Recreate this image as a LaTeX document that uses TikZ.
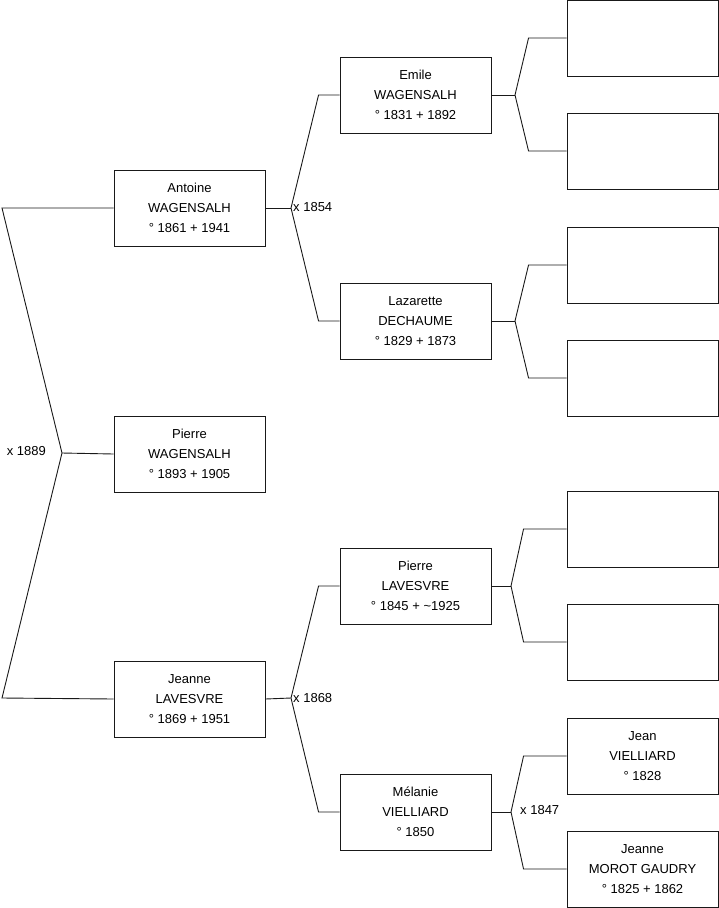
\documentclass[tikz,border=0pt]{standalone}
\usepackage{fontspec}
\setmainfont{Liberation Sans}
\begin{document}
\begin{tikzpicture}[x=1pt,y=-1pt,
  person/.style={draw=black!90, line width=0.9pt, minimum width=151pt, minimum height=76pt, inner sep=0pt, align=center, font=\fontsize{13}{20}\selectfont},
  link/.style={draw=black!90, line width=0.9pt},
  lbl/.style={inner sep=0pt, font=\fontsize{13}{15}\selectfont}]
\useasboundingbox (0,0) rectangle (719,908);
% generation 1
\node[person] (ant) at (189.5,208) {Antoine\\WAGENSALH\\° 1861 + 1941};
\node[person] (pw) at (189.5,454) {Pierre\\WAGENSALH\\° 1893 + 1905};
\node[person] (jea) at (189.5,699) {Jeanne\\LAVESVRE\\° 1869 + 1951};
% generation 2
\node[person] (emi) at (415.5,95) {Emile\\WAGENSALH\\° 1831 + 1892};
\node[person] (laz) at (415.5,321) {Lazarette\\DECHAUME\\° 1829 + 1873};
\node[person] (pl) at (415.5,586) {Pierre\\LAVESVRE\\° 1845 + \textasciitilde1925};
\node[person] (mel) at (415.5,812) {Mélanie\\VIELLIARD\\° 1850};
% generation 3
\node[person] (r1) at (642.5,38) {};
\node[person] (r2) at (642.5,151) {};
\node[person] (r3) at (642.5,265) {};
\node[person] (r4) at (642.5,378) {};
\node[person] (r5) at (642.5,529) {};
\node[person] (r6) at (642.5,642) {};
\node[person] (r7) at (642.5,756) {Jean\\VIELLIARD\\° 1828};
\node[person] (r8) at (642.5,869) {Jeanne\\MOROT GAUDRY\\° 1825 + 1862};
% forks
\coordinate (f0) at (62,453);
\coordinate (l1) at (2,208);
\coordinate (l2) at (2,698);
\draw[link] (ant.west) -- (l1) -- (f0) -- (l2) -- (jea.west);
\draw[link] (f0) -- (pw.west);
\node[lbl, anchor=east] (m0) at (46,451) {x 1889};

\coordinate (f1) at (291,208);
\draw[link] (ant.east) -- (f1);
\draw[link] (emi.west) -- ([xshift=-21pt]emi.west) -- (f1) -- ([xshift=-21pt]laz.west) -- (laz.west);
\node[lbl, anchor=west] (m1) at (293,207) {x 1854};

\coordinate (f2) at (291,698);
\draw[link] (jea.east) -- (f2);
\draw[link] (pl.west) -- ([xshift=-21pt]pl.west) -- (f2) -- ([xshift=-21pt]mel.west) -- (mel.west);
\node[lbl, anchor=west] (m2) at (293,698) {x 1868};

\coordinate (f3) at (515,95);
\draw[link] (emi.east) -- (f3);
\draw[link] (r1.west) -- ([xshift=-38pt]r1.west) -- (f3) -- ([xshift=-38pt]r2.west) -- (r2.west);

\coordinate (f4) at (515,321);
\draw[link] (laz.east) -- (f4);
\draw[link] (r3.west) -- ([xshift=-38pt]r3.west) -- (f4) -- ([xshift=-38pt]r4.west) -- (r4.west);

\coordinate (f5) at (511,586);
\draw[link] (pl.east) -- (f5);
\draw[link] (r5.west) -- ([xshift=-43pt]r5.west) -- (f5) -- ([xshift=-43pt]r6.west) -- (r6.west);

\coordinate (f6) at (511,812);
\draw[link] (mel.east) -- (f6);
\draw[link] (r7.west) -- ([xshift=-43pt]r7.west) -- (f6) -- ([xshift=-43pt]r8.west) -- (r8.west);
\node[lbl, anchor=west] (m3) at (520,810) {x 1847};
\end{tikzpicture}
\end{document}
